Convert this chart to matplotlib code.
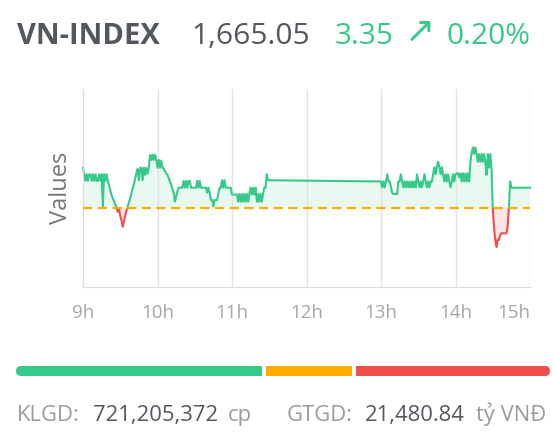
import numpy as np
import matplotlib.pyplot as plt
from matplotlib.patches import Rectangle, FancyBboxPatch

plt.rcParams['font.family'] = ['Open Sans', 'DejaVu Sans']

# VN-INDEX intraday, one value per minute
ref_value = 1661.70
close_value = 1665.05
change = 3.35
change_pct = 0.20

morning_min = np.arange(0, 151)          # 9:00 - 11:30
morning_val = [
    1668.4, 1667.3, 1666.2, 1667.3, 1666.2, 1667.3, 1667.3, 1666.2, 1667.3, 1666.2,
    1667.3, 1666.2, 1666.2, 1667.3, 1666.2, 1667.3, 1661.9, 1667.3, 1666.2, 1667.3,
    1666.2, 1665.5, 1664.6, 1663.8, 1663.3, 1662.8, 1662.3, 1661.7, 1661.0, 1661.6,
    1660.3, 1659.6, 1658.5, 1659.4, 1660.4, 1661.2, 1661.9, 1662.6, 1663.3, 1664.1,
    1665.0, 1665.6, 1666.6, 1667.5, 1668.2, 1666.3, 1668.4, 1668.4, 1666.3, 1668.4,
    1667.2, 1668.4, 1667.4, 1668.4, 1670.5, 1669.7, 1670.6, 1669.7, 1670.6, 1669.7,
    1668.4, 1669.7, 1668.4, 1669.6, 1668.4, 1668.3, 1667.8, 1667.5, 1667.2, 1666.7,
    1666.1, 1665.6, 1664.9, 1664.3, 1662.7, 1663.6, 1664.4, 1665.05, 1665.05, 1665.05,
    1665.05, 1666.2, 1665.05, 1666.2, 1665.05, 1666.2, 1666.2, 1665.05, 1665.05, 1665.05,
    1665.05, 1665.05, 1666.2, 1665.05, 1666.2, 1665.05, 1665.05, 1665.05, 1665.05, 1665.05,
    1664.2, 1665.05, 1664.2, 1663.0, 1663.0, 1661.9, 1663.0, 1663.0, 1663.0, 1664.0,
    1665.05, 1665.05, 1666.3, 1665.05, 1666.3, 1665.05, 1665.05, 1665.05, 1665.05, 1665.05,
    1663.9, 1663.9, 1663.9, 1663.9, 1663.9, 1662.7, 1664.0, 1662.7, 1664.0, 1662.7,
    1664.0, 1662.7, 1664.0, 1662.7, 1664.0, 1665.05, 1663.9, 1665.05, 1663.9, 1665.05,
    1662.7, 1664.0, 1662.7, 1664.0, 1662.7, 1664.0, 1665.05, 1665.05, 1667.3, 1666.3,
    1666.3,
]

afternoon_min = np.arange(240, 346)      # 13:00 - 14:45
afternoon_val = [
    1666.1, 1665.1, 1666.1, 1665.1, 1666.1, 1667.3, 1666.1, 1666.1, 1665.2, 1664.2,
    1664.0, 1664.0, 1664.0, 1664.0, 1666.1, 1666.1, 1667.3, 1666.1, 1665.1, 1666.1,
    1665.1, 1666.1, 1665.1, 1666.1, 1665.1, 1666.1, 1665.1, 1666.1, 1665.1, 1667.3,
    1666.1, 1665.1, 1666.1, 1665.1, 1666.1, 1667.3, 1666.1, 1665.1, 1666.1, 1665.1,
    1666.1, 1666.1, 1667.3, 1668.5, 1667.3, 1668.5, 1669.4, 1668.5, 1667.3, 1668.5,
    1667.3, 1666.1, 1667.3, 1666.1, 1667.3, 1666.1, 1665.1, 1666.1, 1667.3, 1666.1,
    1667.3, 1667.46, 1667.46, 1666.8, 1667.46, 1666.1, 1667.46, 1666.1, 1667.46, 1666.1,
    1667.46, 1666.1, 1669.4, 1670.8, 1671.8, 1670.7, 1671.8, 1670.7, 1669.4, 1670.7,
    1669.4, 1670.7, 1669.4, 1670.7, 1669.4, 1667.2, 1670.7, 1668.4, 1670.7, 1668.4,
    1661.7, 1658.5, 1656.3, 1655.1, 1656.3, 1656.3, 1657.1, 1657.4, 1657.4, 1657.4,
    1657.4, 1657.4, 1658.5, 1661.7, 1666.1, 1665.05,
]

end_min = [360]
end_val = [close_value]

hour_ticks = [9, 10, 11, 12, 13, 14, 15]
hour_labels = ['9h', '10h', '11h', '12h', '13h', '14h', '15h']

# market breadth shares: up / unchanged / down
breadth = [0.468, 0.163, 0.369]

klgd = '721,205,372'
gtgd = '21,480.84'

t = np.concatenate([morning_min, afternoon_min, end_min]) / 60 + 9
v = np.array(morning_val + afternoon_val + end_val)

green = '#36c98a'
red = '#f04d4d'
orange = '#ffab00'
dark = '#53575e'
grey = '#9b9b9b'

fig = plt.figure(figsize=(5.56, 4.48), dpi=100)
W, H = 556, 448
ax = fig.add_axes([83 / W, 1 - 287 / H, 447 / W, 198 / H])

ax.fill_between(t, v, ref_value, where=v >= ref_value, interpolate=True,
                color='#e9f9f1', lw=0)
ax.fill_between(t, v, ref_value, where=v <= ref_value, interpolate=True,
                color='#fde6e6', lw=0)

above = Rectangle((8, ref_value), 8, 100, transform=ax.transData)
below = Rectangle((8, ref_value - 100), 8, 100, transform=ax.transData)
g_line, = ax.plot(t, v, color=green, lw=1.5, zorder=2)
g_line.set_clip_path(above)
r_line, = ax.plot(t, v, color=red, lw=1.5, zorder=2)
r_line.set_clip_path(below)

ax.axhline(ref_value, color=orange, lw=1.6, dashes=(4.2, 2.4), zorder=3)

ax.set_xlim(9, 15)
ax.set_ylim(1648.4, 1681.6)
ax.set_xticks(hour_ticks)
ax.set_xticklabels(hour_labels)
ax.get_xticklabels()[-1].set_ha('right')
ax.set_yticks([])
ax.tick_params(axis='x', length=0, pad=12, labelsize=13.5, colors='#a6a6a6')
ax.grid(axis='x', color='#e3e3e3', lw=1)
for s in ['top', 'right']:
    ax.spines[s].set_visible(False)
for s in ['left', 'bottom']:
    ax.spines[s].set_color('#dcdcdc')
ax.set_ylabel('Values', fontsize=17, color='#777777', labelpad=7)

# header
hy = 1 - 44 / H
fig.text(17 / W, hy, 'VN-INDEX', fontsize=21, fontweight='bold',
         color=dark, va='baseline')
fig.text(191 / W, hy, f'{close_value:,.2f}', fontsize=21.5,
         color=dark, va='baseline')
fig.text(335 / W, hy, f'{change:.2f}', fontsize=21.5, color=green,
         va='baseline')
fig.text(420 / W, 1 - 32 / H, '\u2197', fontsize=26, color=green,
         family='DejaVu Sans', ha='center', va='center')
fig.text(447 / W, hy, f'{change_pct:.2f}%', fontsize=21.5, color=green,
         va='baseline')

# breadth bar
bx = fig.add_axes([16 / W, 1 - 376 / H, 534 / W, 10 / H])
bx.set_xlim(0, 534)
bx.set_ylim(0, 10)
bx.axis('off')
gap = 4
usable = 534 - gap * (len(breadth) - 1)
cols = [green, orange, red]
x0 = 0
for i, (share, c) in enumerate(zip(breadth, cols)):
    w = share * usable
    if i == 0 or i == len(breadth) - 1:
        bx.add_patch(FancyBboxPatch((x0, 0), w, 10,
                                    boxstyle='round,pad=0,rounding_size=5',
                                    fc=c, ec='none'))
        sx = x0 + w / 2 if i == 0 else x0
        bx.add_patch(Rectangle((sx, 0), w / 2, 10, fc=c, ec='none'))
    else:
        bx.add_patch(Rectangle((x0, 0), w, 10, fc=c, ec='none'))
    x0 += w + gap

# footer
fy = 1 - 421 / H
fs = 15.8
fig.text(17 / W, fy, 'KLGD:', fontsize=fs, color=grey, va='baseline')
fig.text(93 / W, fy, klgd, fontsize=fs, color=dark, va='baseline')
fig.text(228 / W, fy, 'cp', fontsize=fs, color=grey, va='baseline')
fig.text(287 / W, fy, 'GTGD:', fontsize=fs, color=grey, va='baseline')
fig.text(365 / W, fy, gtgd, fontsize=fs, color=dark, va='baseline')
fig.text(476 / W, fy, 'tỷ VNĐ', fontsize=fs, color=grey, va='baseline')

fig.savefig('out.png', dpi=100)
